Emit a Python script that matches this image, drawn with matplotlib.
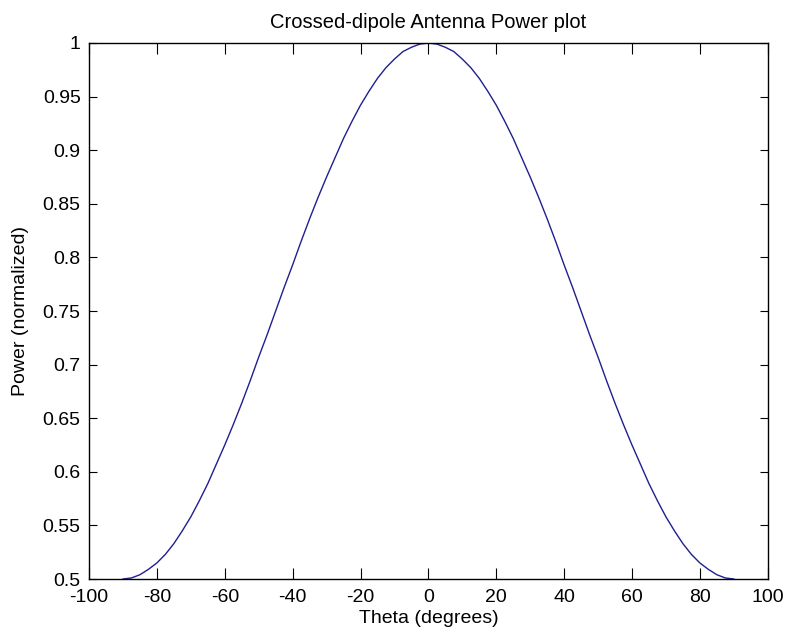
import numpy as np
import matplotlib.pyplot as plt

plt.rcParams['font.family'] = ['Liberation Sans', 'DejaVu Sans']
plt.rcParams['axes.unicode_minus'] = False

# Значения (шаг 2.5 градуса)
theta = [-90, -87.5, -85, -82.5, -80, -77.5, -75, -72.5, -70, -67.5, -65, -62.5, -60, -57.5,
         -55, -52.5, -50, -47.5, -45, -42.5, -40, -37.5, -35, -32.5, -30, -27.5, -25, -22.5,
         -20, -17.5, -15, -12.5, -10, -7.5, -5, -2.5, 0,
         2.5, 5, 7.5, 10, 12.5, 15, 17.5, 20, 22.5, 25, 27.5, 30, 32.5, 35, 37.5, 40, 42.5,
         45, 47.5, 50, 52.5, 55, 57.5, 60, 62.5, 65, 67.5, 70, 72.5, 75, 77.5, 80, 82.5,
         85, 87.5, 90]
power = [0.500, 0.501, 0.504, 0.509, 0.515, 0.523, 0.533, 0.545, 0.558, 0.573, 0.589, 0.607,
         0.625, 0.644, 0.664, 0.685, 0.707, 0.728, 0.750, 0.772, 0.793, 0.815, 0.836, 0.856,
         0.875, 0.893, 0.911, 0.927, 0.942, 0.955, 0.967, 0.977, 0.985, 0.992, 0.996, 0.999, 1.000,
         0.999, 0.996, 0.992, 0.985, 0.977, 0.967, 0.955, 0.942, 0.927, 0.911, 0.893, 0.875,
         0.856, 0.836, 0.815, 0.793, 0.772, 0.750, 0.728, 0.707, 0.685, 0.664, 0.644, 0.625,
         0.607, 0.589, 0.573, 0.558, 0.545, 0.533, 0.523, 0.515, 0.509, 0.504, 0.501, 0.500]

fig = plt.figure(figsize=(7.85, 6.36), dpi=100)
ax = fig.add_axes([0.1134, 0.0896, 0.8646, 0.8428])
ax.plot(theta, power, color='#1f1f8f', linewidth=1.0)

ax.set_xlim(-100, 100)
ax.set_ylim(0.5, 1)
ax.set_xticks(np.arange(-100, 101, 20))
ax.set_yticks(np.arange(0.5, 1.001, 0.05))
ax.set_yticklabels(['0.5', '0.55', '0.6', '0.65', '0.7', '0.75', '0.8', '0.85', '0.9', '0.95', '1'])
ax.tick_params(axis='x', direction='in', top=True, length=8, labelsize=14, pad=7)
ax.tick_params(axis='y', direction='in', right=True, length=6, labelsize=14, pad=6)
for s in ax.spines.values():
    s.set_linewidth(1.0)

ax.set_xlabel('Theta (degrees)', fontsize=14, labelpad=3)
ax.set_ylabel('Power (normalized)', fontsize=14, labelpad=10)
ax.set_title('Crossed-dipole Antenna Power plot', fontsize=14.5, pad=11)

fig.savefig('out.png', dpi=100)
